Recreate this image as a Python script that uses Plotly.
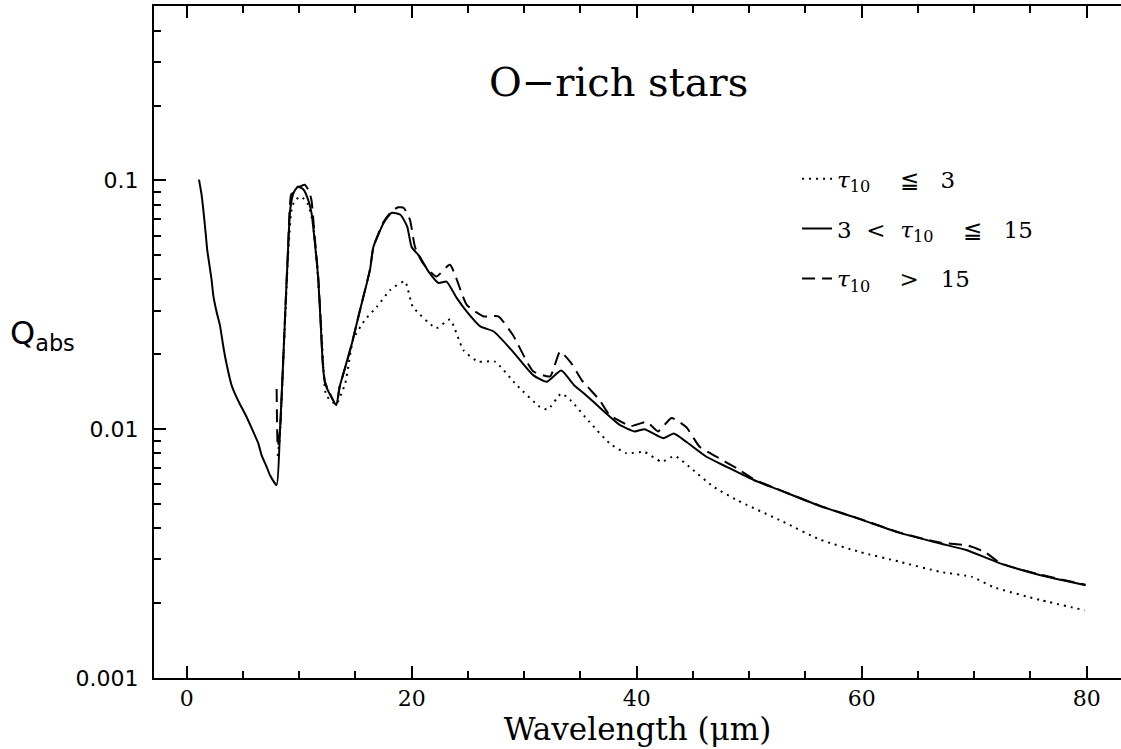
import plotly.graph_objects as go

# ---- data ----
wl_mid = [1.1, 1.33, 1.48, 1.72, 1.83, 2.22, 2.37, 2.67, 2.96, 3.26, 3.56, 4.0, 4.29, 4.74,
          5.33, 5.78, 6.37, 6.67, 7.11, 7.4, 8.0, 8.3, 8.6, 8.8, 9.0,
          9.2, 9.5, 9.9, 10.4, 10.8, 11.1, 11.4, 11.7, 11.9, 12.1, 12.3, 12.7, 13.3, 13.6,
          14.1, 14.7, 15.4, 16.3, 16.6, 17.5, 18.2, 19.0, 19.6, 20.0, 20.7, 21.5, 22.4,
          23.1, 24.0, 24.9, 26.1, 27.3, 29.0, 30.8, 32.0, 33.3, 34.4, 35.5, 37.0, 38.5,
          39.8, 40.7, 41.5, 42.4, 43.3, 44.4, 46.2, 48.0, 50.4, 52.7, 56.3, 59.9, 63.4,
          67.0, 69.3, 72.3, 75.9, 79.9]
q_mid = [0.1007, 0.0875, 0.0765, 0.0595, 0.0526, 0.0398, 0.0345, 0.0295, 0.0262, 0.0215,
         0.0182, 0.0150, 0.0139, 0.0126, 0.0112, 0.0101, 0.00877, 0.00785, 0.00706,
         0.00655, 0.00596, 0.0099, 0.0196, 0.0321, 0.051, 0.076, 0.089, 0.0946, 0.0917,
         0.0836, 0.074, 0.056, 0.040, 0.0275, 0.0184, 0.0153, 0.0139, 0.0125, 0.0148,
         0.0178, 0.0222, 0.030, 0.0437, 0.054, 0.0673, 0.074, 0.0728, 0.0653, 0.054,
         0.0495, 0.043, 0.0387, 0.0392, 0.0337, 0.0297, 0.0259, 0.0247, 0.0205, 0.0165,
         0.0155, 0.0172, 0.0151, 0.0137, 0.0119, 0.0104, 0.0098, 0.0100, 0.0096, 0.0092,
         0.0096, 0.0089, 0.00775, 0.00706, 0.00625, 0.00569, 0.00491, 0.00434, 0.00383,
         0.00347, 0.00327, 0.00289, 0.00259, 0.00236]

wl_high = [8.0, 8.1, 8.3, 8.6, 8.8, 9.0, 9.3, 9.6, 10.0, 10.5, 10.9, 11.1, 11.4, 11.7,
           11.9, 12.1, 12.3, 12.7, 13.3, 13.6, 14.1, 14.7, 15.4, 16.3, 16.6, 17.5, 18.2,
           18.8, 19.3, 19.85, 20.3, 21.0, 22.2, 23.4, 24.9, 26.4, 27.7, 29.0, 30.8, 32.3,
           33.2, 34.2, 35.1, 36.7, 37.6, 39.5, 40.9, 41.9, 43.1, 44.4, 45.6, 47.1, 48.9,
           50.4, 52.7, 56.3, 59.9, 63.4, 67.0, 69.5, 71.0, 72.3, 75.9, 79.9]
q_high = [0.0145, 0.0085, 0.0099, 0.0196, 0.0321, 0.051, 0.088, 0.090, 0.094, 0.096,
          0.090, 0.083, 0.058, 0.041, 0.028, 0.0186, 0.0155, 0.0140, 0.0125, 0.0148,
          0.0177, 0.0222, 0.030, 0.0440, 0.054, 0.068, 0.075, 0.078, 0.0775, 0.0695,
          0.054, 0.0465, 0.0411, 0.0458, 0.0316, 0.0284, 0.0284, 0.0239, 0.0171, 0.0163,
          0.0205, 0.0184, 0.0158, 0.0131, 0.0114, 0.0103, 0.0107, 0.0098, 0.0111, 0.0102,
          0.0085, 0.00775, 0.00696, 0.0063, 0.0057, 0.00492, 0.00435, 0.00384, 0.0035,
          0.0034, 0.0032, 0.0029, 0.0026, 0.00237]

wl_low = [8.1, 8.3, 8.6, 9.0, 9.3, 9.6, 10.2, 10.8, 11.2, 11.6, 12.0, 12.4, 13.0, 13.3,
          14.1, 14.8, 15.85, 16.9, 18.1, 19.4, 20.1, 22.2, 23.4, 24.6, 25.9, 27.4, 29.3,
          31.4, 32.1, 33.3, 34.1, 35.8, 37.6, 39.1, 40.7, 42.2, 43.4, 45.0, 46.8, 48.9,
          53.0, 56.3, 59.85, 63.4, 67.0, 69.8, 71.7, 75.85, 79.85]
q_low = [0.0078, 0.0095, 0.019, 0.048, 0.075, 0.083, 0.086, 0.080, 0.068, 0.045, 0.024,
         0.0137, 0.0128, 0.0126, 0.0153, 0.0229, 0.0275, 0.031, 0.0363, 0.0393, 0.0311,
         0.0255, 0.0276, 0.0208, 0.0187, 0.0187, 0.0151, 0.0123, 0.0120, 0.0139, 0.0131,
         0.0107, 0.00877, 0.0080, 0.0081, 0.0074, 0.0078, 0.00686, 0.00588, 0.00519,
         0.00425, 0.0036, 0.00321, 0.00293, 0.00267, 0.00255, 0.00232, 0.00206, 0.00187]

x_ticks = [0, 20, 40, 60, 80]
y_ticks = [0.001, 0.01, 0.1]
y_tick_text = ["0.001", "0.01", "0.1"]

names = ["<i>τ</i><sub>10</sub>    ≦   3",
         "3  <  <i>τ</i><sub>10</sub>    ≦   15",
         "<i>τ</i><sub>10</sub>    >   15"]

SERIF = "DejaVu Serif"

fig = go.Figure()
fig.add_trace(go.Scatter(x=wl_low, y=q_low, mode="lines", name=names[0], legendgroup="a",
                         line=dict(color="black", width=2, dash="2px,5px",
                                   shape="spline", smoothing=0.5)))
fig.add_trace(go.Scatter(x=wl_mid, y=q_mid, mode="lines", name=names[1], legendgroup="b",
                         line=dict(color="black", width=2, shape="spline", smoothing=0.5)))
fig.add_trace(go.Scatter(x=wl_high, y=q_high, mode="lines", name=names[2], legendgroup="c",
                         line=dict(color="black", width=2, dash="13px,7px",
                                   shape="spline", smoothing=0.5)))

minor_y = [m * 10 ** e for e in (-3, -2, -1) for m in range(2, 10) if m * 10 ** e < 0.51]

fig.update_layout(
    width=1121, height=749,
    margin=dict(l=154, r=0, t=6, b=71),
    paper_bgcolor="white", plot_bgcolor="white",
    showlegend=True,
    legend=dict(x=0.665, y=0.775, xanchor="left", yanchor="top",
                font=dict(family=SERIF, size=23, color="black"),
                tracegroupgap=17, bgcolor="rgba(0,0,0,0)"),
    xaxis=dict(range=[-2.9, 83.05], tickvals=x_ticks, ticks="inside", ticklen=12,
               tickwidth=1.5, tickcolor="black", showline=True, linewidth=2,
               linecolor="black", mirror="allticks", showgrid=False, zeroline=False,
               tickfont=dict(family=SERIF, size=22, color="black"),
               minor=dict(dtick=5, ticks="inside", ticklen=7, tickwidth=1.5,
                          tickcolor="black", showgrid=False),
               title=dict(text="Wavelength (μm)", font=dict(family=SERIF, size=31,
                          color="black"), standoff=5)),
    yaxis=dict(type="log", range=[-3, -0.299], tickvals=y_ticks, ticktext=y_tick_text,
               ticks="inside", ticklen=12, tickwidth=1.5, tickcolor="black",
               showline=True, linewidth=2, linecolor="black", mirror=False,
               showgrid=False, zeroline=False, ticklabelstandoff=9,
               tickfont=dict(family="DejaVu Sans", size=22, color="black"),
               minor=dict(tickvals=minor_y, ticks="inside", ticklen=7, tickwidth=1.5,
                          tickcolor="black", showgrid=False)),
    yaxis2=dict(type="log", range=[-3, -0.299], overlaying="y", side="right",
                tickvals=y_ticks, ticks="inside", ticklen=4, tickwidth=1.5,
                tickcolor="black", showticklabels=False, showline=False,
                showgrid=False, zeroline=False),
    annotations=[
        dict(text="O−rich stars", xref="paper", yref="paper", x=0.48, y=0.887,
             xanchor="center", yanchor="middle", showarrow=False,
             font=dict(family=SERIF, size=40, color="black")),
        dict(text="Q<sub>abs</sub>", xref="paper", yref="paper", x=-0.115, y=0.51,
             xanchor="center", yanchor="middle", showarrow=False,
             font=dict(family="DejaVu Sans", size=32, color="black")),
    ],
)

fig.write_html("out.html")
